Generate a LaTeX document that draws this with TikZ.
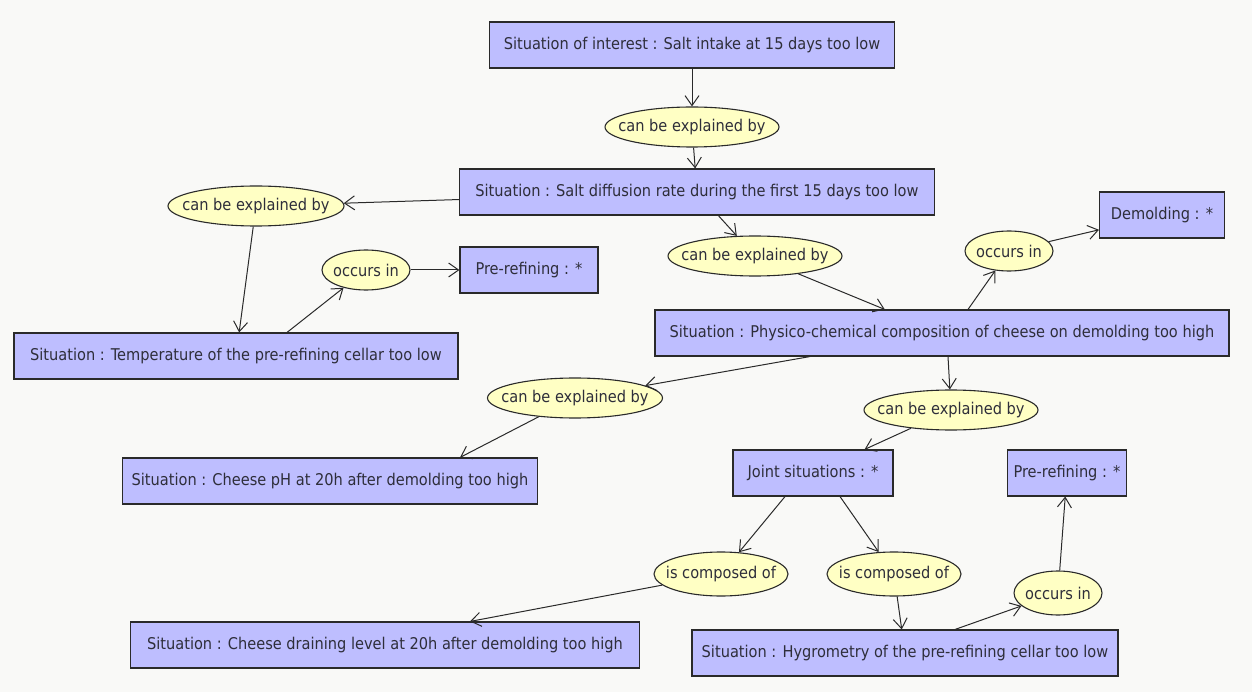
\documentclass[tikz,border=0pt]{standalone}
\usepackage{fontspec}
\setmainfont{DejaVu Sans Condensed}
\usetikzlibrary{arrows.meta,shapes.geometric,calc}
\definecolor{bg}{HTML}{F9F9F7}
\definecolor{boxfill}{HTML}{BEBEFF}
\definecolor{ellfill}{HTML}{FFFFC4}
\definecolor{edge}{HTML}{2A2A2A}
\definecolor{txt}{HTML}{2E2E3A}
\tikzset{
  sitbox/.style={draw=edge, line width=1.1pt, fill=boxfill, minimum height=46pt, inner xsep=6pt, text=txt, font=\fontsize{16.2}{18}\selectfont},
  rel/.style={draw=edge, line width=1.1pt, fill=ellfill, ellipse, inner xsep=-13pt, inner ysep=0pt, minimum height=40pt, text=txt, font=\fontsize{16.2}{18}\selectfont},
  arr/.style={draw=edge, line width=1pt, -{Straight Barb[length=10pt,width=14pt,line width=1pt]}}
}
\begin{document}
\begin{tikzpicture}[x=1pt,y=-1pt]
\fill[bg] (0,0) rectangle (1252,692);
\useasboundingbox (0,0) rectangle (1252,692);
% boxes
\node[sitbox, minimum width=405pt] (top) at (692,45) {Situation of interest : Salt intake at 15 days too low};
\node[sitbox, minimum width=475pt] (diff) at (697,192) {Situation : Salt diffusion rate during the first 15 days too low};
\node[sitbox, minimum width=125pt] (demold) at (1162,215) {Demolding : *};
\node[sitbox, minimum width=138pt] (pre1) at (529,270) {Pre-refining : *};
\node[sitbox, minimum width=444pt] (temp) at (236,356) {Situation : Temperature of the pre-refining cellar too low};
\node[sitbox, minimum width=574pt] (phys) at (942,333) {Situation : Physico-chemical composition of cheese on demolding too high};
\node[sitbox, minimum width=415pt] (ph) at (330,481) {Situation : Cheese pH at 20h after demolding too high};
\node[sitbox, minimum width=160pt] (joint) at (813,473) {Joint situations : *};
\node[sitbox, minimum width=113pt] (pre2) at (1067,473) {Pre-refining : *};
\node[sitbox, minimum width=509pt] (drain) at (385,645) {Situation : Cheese draining level at 20h after demolding too high};
\node[sitbox, minimum width=426pt] (hygro) at (905,653) {Situation : Hygrometry of the pre-refining cellar too low};
% relations
\node[rel, minimum width=174pt] (ea) at (692,127) {can be explained by};
\node[rel, minimum width=176pt] (eb) at (256,206) {can be explained by};
\node[rel, minimum width=174pt] (ec) at (755,256) {can be explained by};
\node[rel, minimum width=88pt] (od) at (366,270) {occurs in};
\node[rel, minimum width=88pt] (oe) at (1009,251) {occurs in};
\node[rel, minimum width=175pt] (ef) at (575,398) {can be explained by};
\node[rel, minimum width=174pt] (eg) at (951,410) {can be explained by};
\node[rel, minimum width=134pt, minimum height=44pt] (ch) at (721,574) {is composed of};
\node[rel, minimum width=134pt, minimum height=44pt] (ci) at (894,574) {is composed of};
\node[rel, minimum width=88pt, minimum height=44pt] (oj) at (1058,593) {occurs in};
% connectors
\draw[arr] (top) -- (ea);
\draw[arr] (ea) -- (diff);
\draw[arr] (diff) -- (eb);
\draw[arr] (eb) -- (temp);
\draw[arr] ([xshift=51pt]temp.north) -- (od);
\draw[arr] (od) -- (pre1);
\draw[arr] (diff) -- (ec);
\draw[arr] (ec) -- (phys);
\draw[arr] ([xshift=26pt]phys.north) -- (oe);
\draw[arr] (oe) -- (demold);
\draw[arr] ([xshift=-132pt]phys.south) -- (ef);
\draw[arr] (ef) -- ([xshift=130pt]ph.north);
\draw[arr] ([xshift=6pt]phys.south) -- (eg);
\draw[arr] (eg) -- (joint);
\draw[arr] ([xshift=-28pt]joint.south) -- (ch);
\draw[arr] ([xshift=27pt]joint.south) -- (ci);
\draw[arr] (ch) -- ([xshift=85pt]drain.north);
\draw[arr] (ci) -- (hygro);
\draw[arr] ([xshift=50pt]hygro.north) -- (oj);
\draw[arr] (oj) -- (pre2);
\end{tikzpicture}
\end{document}
